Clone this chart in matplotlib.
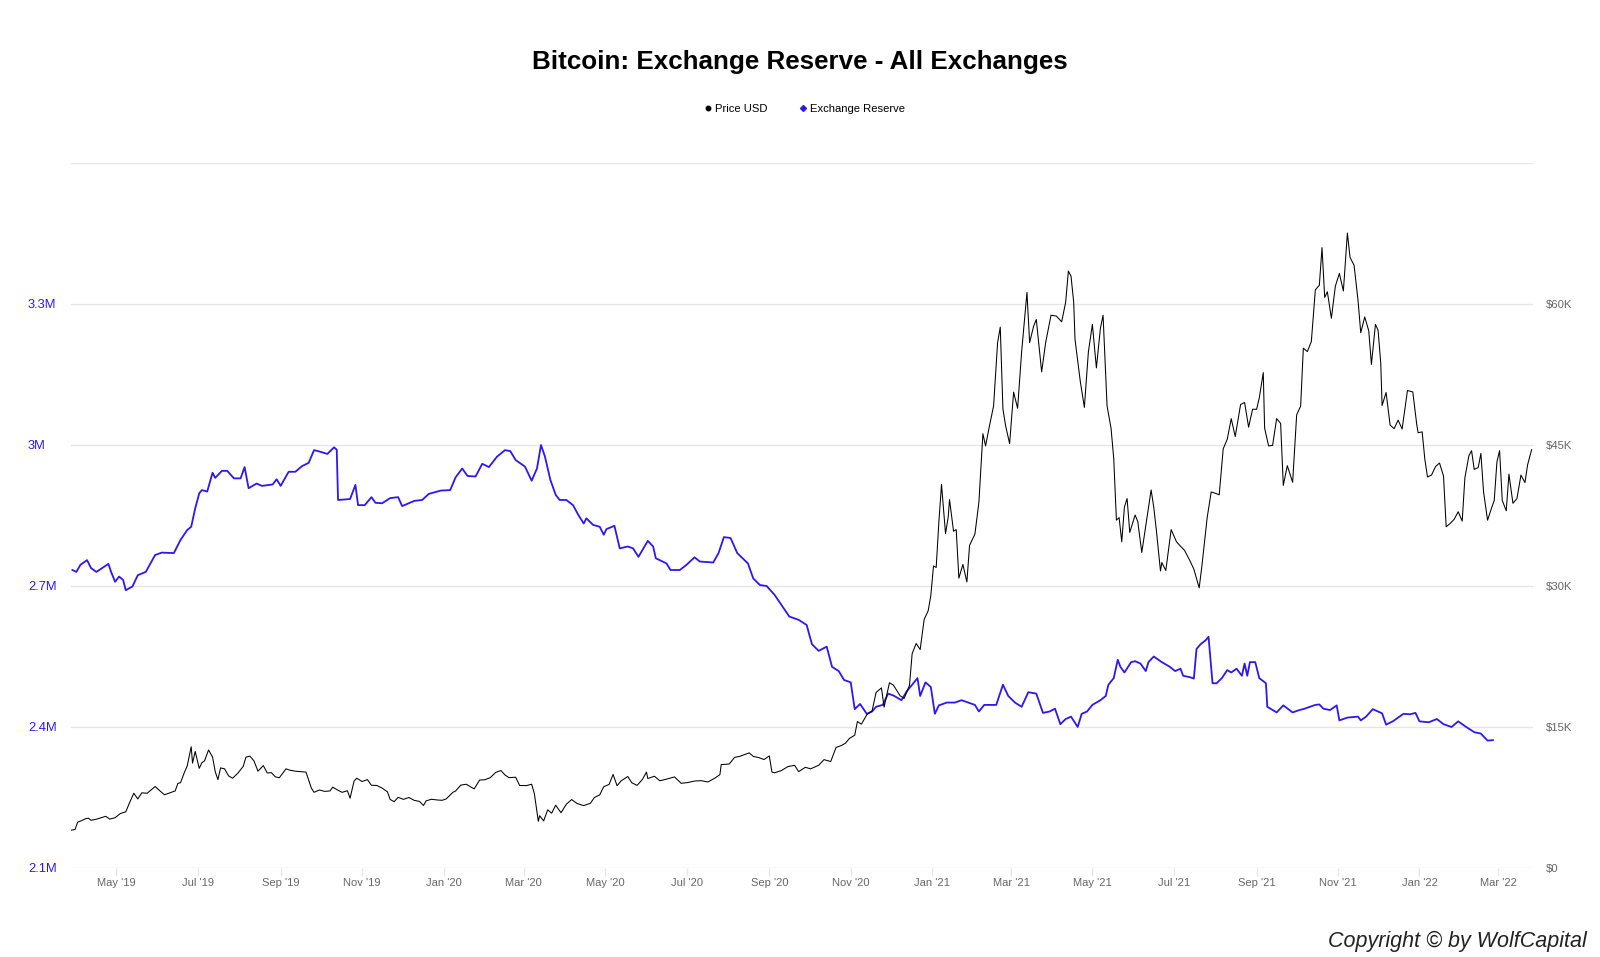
import matplotlib.pyplot as plt
import matplotlib.dates as mdates
from matplotlib.lines import Line2D
import pandas as pd

plt.rcParams['font.family'] = ['Liberation Sans', 'DejaVu Sans']

# bitcoin price (USD)
price_dates = [
    '2019-03-28', '2019-03-31', '2019-04-02', '2019-04-05', '2019-04-08', '2019-04-10', '2019-04-12', '2019-04-17',
    '2019-04-23', '2019-04-26', '2019-04-30', '2019-05-04', '2019-05-08', '2019-05-11', '2019-05-14', '2019-05-17',
    '2019-05-20', '2019-05-24', '2019-05-30', '2019-06-03', '2019-06-06', '2019-06-10', '2019-06-14', '2019-06-16',
    '2019-06-18', '2019-06-21', '2019-06-23', '2019-06-26', '2019-06-27', '2019-06-29', '2019-07-02', '2019-07-04',
    '2019-07-06', '2019-07-09', '2019-07-12', '2019-07-14', '2019-07-16', '2019-07-18', '2019-07-21', '2019-07-24',
    '2019-07-27', '2019-07-31', '2019-08-04', '2019-08-06', '2019-08-09', '2019-08-12', '2019-08-15', '2019-08-19',
    '2019-08-22', '2019-08-25', '2019-08-28', '2019-08-31', '2019-09-05', '2019-09-08', '2019-09-12', '2019-09-16',
    '2019-09-20', '2019-09-24', '2019-09-26', '2019-09-30', '2019-10-04', '2019-10-08', '2019-10-10', '2019-10-13',
    '2019-10-17', '2019-10-21', '2019-10-23', '2019-10-25', '2019-10-26', '2019-10-28', '2019-11-01', '2019-11-05',
    '2019-11-08', '2019-11-12', '2019-11-16', '2019-11-20', '2019-11-22', '2019-11-25', '2019-11-28', '2019-12-02',
    '2019-12-06', '2019-12-10', '2019-12-14', '2019-12-17', '2019-12-19', '2019-12-23', '2019-12-27', '2019-12-31',
    '2020-01-03', '2020-01-06', '2020-01-08', '2020-01-10', '2020-01-14', '2020-01-18', '2020-01-21', '2020-01-24',
    '2020-01-28', '2020-02-01', '2020-02-05', '2020-02-09', '2020-02-13', '2020-02-16', '2020-02-19', '2020-02-24',
    '2020-02-27', '2020-03-03', '2020-03-07', '2020-03-09', '2020-03-12', '2020-03-13', '2020-03-16', '2020-03-19',
    '2020-03-22', '2020-03-25', '2020-03-29', '2020-04-02', '2020-04-06', '2020-04-10', '2020-04-15', '2020-04-20',
    '2020-04-23', '2020-04-27', '2020-04-30', '2020-05-04', '2020-05-07', '2020-05-10', '2020-05-13', '2020-05-18',
    '2020-05-21', '2020-05-25', '2020-05-29', '2020-06-01', '2020-06-02', '2020-06-07', '2020-06-11', '2020-06-16',
    '2020-06-22', '2020-06-27', '2020-07-02', '2020-07-07', '2020-07-12', '2020-07-17', '2020-07-22', '2020-07-26',
    '2020-07-27', '2020-08-02', '2020-08-06', '2020-08-10', '2020-08-17', '2020-08-20', '2020-08-24', '2020-08-28',
    '2020-09-01', '2020-09-03', '2020-09-05', '2020-09-10', '2020-09-15', '2020-09-20', '2020-09-23', '2020-09-28',
    '2020-10-02', '2020-10-08', '2020-10-12', '2020-10-17', '2020-10-21', '2020-10-25', '2020-10-28', '2020-10-31',
    '2020-11-04', '2020-11-06', '2020-11-09', '2020-11-13', '2020-11-17', '2020-11-20', '2020-11-24', '2020-11-26',
    '2020-11-30', '2020-12-03', '2020-12-08', '2020-12-11', '2020-12-15', '2020-12-17', '2020-12-20', '2020-12-23',
    '2020-12-26', '2020-12-29', '2020-12-31', '2021-01-02', '2021-01-04', '2021-01-06', '2021-01-08', '2021-01-11',
    '2021-01-13', '2021-01-14', '2021-01-17', '2021-01-19', '2021-01-21', '2021-01-24', '2021-01-27', '2021-01-29',
    '2021-02-02', '2021-02-05', '2021-02-08', '2021-02-10', '2021-02-13', '2021-02-16', '2021-02-19', '2021-02-21',
    '2021-02-23', '2021-02-25', '2021-02-28', '2021-03-03', '2021-03-06', '2021-03-09', '2021-03-13', '2021-03-15',
    '2021-03-18', '2021-03-20', '2021-03-24', '2021-03-27', '2021-03-31', '2021-04-04', '2021-04-08', '2021-04-11',
    '2021-04-13', '2021-04-15', '2021-04-17', '2021-04-18', '2021-04-22', '2021-04-25', '2021-04-28', '2021-05-01',
    '2021-05-04', '2021-05-07', '2021-05-09', '2021-05-12', '2021-05-15', '2021-05-17', '2021-05-19', '2021-05-21',
    '2021-05-23', '2021-05-25', '2021-05-27', '2021-05-29', '2021-06-02', '2021-06-04', '2021-06-07', '2021-06-11',
    '2021-06-14', '2021-06-16', '2021-06-18', '2021-06-21', '2021-06-22', '2021-06-25', '2021-06-29', '2021-07-03',
    '2021-07-06', '2021-07-09', '2021-07-13', '2021-07-16', '2021-07-20', '2021-07-22', '2021-07-26', '2021-07-29',
    '2021-08-01', '2021-08-04', '2021-08-07', '2021-08-10', '2021-08-13', '2021-08-16', '2021-08-20', '2021-08-23',
    '2021-08-26', '2021-08-29', '2021-09-01', '2021-09-03', '2021-09-06', '2021-09-07', '2021-09-10', '2021-09-13',
    '2021-09-16', '2021-09-19', '2021-09-21', '2021-09-24', '2021-09-28', '2021-10-01', '2021-10-04', '2021-10-06',
    '2021-10-09', '2021-10-12', '2021-10-15', '2021-10-18', '2021-10-20', '2021-10-22', '2021-10-24', '2021-10-27',
    '2021-10-30', '2021-11-02', '2021-11-05', '2021-11-08', '2021-11-10', '2021-11-13', '2021-11-16', '2021-11-18',
    '2021-11-21', '2021-11-24', '2021-11-26', '2021-11-29', '2021-12-01', '2021-12-03', '2021-12-04', '2021-12-07',
    '2021-12-10', '2021-12-13', '2021-12-16', '2021-12-19', '2021-12-23', '2021-12-27', '2021-12-30', '2021-12-31',
    '2022-01-03', '2022-01-05', '2022-01-07', '2022-01-10', '2022-01-13', '2022-01-16', '2022-01-19', '2022-01-21',
    '2022-01-24', '2022-01-27', '2022-01-30', '2022-02-02', '2022-02-04', '2022-02-07', '2022-02-09', '2022-02-11',
    '2022-02-14', '2022-02-16', '2022-02-18', '2022-02-21', '2022-02-24', '2022-02-26', '2022-02-28', '2022-03-02',
    '2022-03-04', '2022-03-07', '2022-03-09', '2022-03-12', '2022-03-15', '2022-03-18', '2022-03-21', '2022-03-23',
    '2022-03-26',
]
price_usd = [
    4020, 4100, 4880, 5040, 5250, 5300, 5070, 5230,
    5500, 5200, 5350, 5800, 5980, 7000, 7950, 7350,
    8000, 7950, 8670, 8150, 7790, 8000, 8200, 8990,
    9080, 10200, 10850, 12900, 11160, 12400, 10600, 11200,
    11400, 12560, 11800, 10250, 9400, 10650, 10550, 9800,
    9550, 10090, 10820, 11790, 11900, 11400, 10300, 10900,
    10100, 10150, 9700, 9600, 10550, 10400, 10300, 10250,
    10200, 8500, 8050, 8300, 8150, 8200, 8600, 8350,
    8050, 8220, 7430, 8660, 9250, 9550, 9200, 9400,
    8800, 8780, 8500, 8100, 7300, 7050, 7520, 7300,
    7500, 7200, 7080, 6650, 7150, 7310, 7240, 7200,
    7350, 7770, 8050, 8190, 8820, 8910, 8650, 8420,
    9350, 9390, 9610, 10160, 10370, 9900, 9610, 9660,
    8780, 8760, 8910, 7940, 4970, 5560, 5010, 6190,
    5830, 6680, 5880, 6790, 7280, 6860, 6640, 6880,
    7500, 7780, 8650, 8890, 9950, 8750, 9270, 9730,
    9070, 8790, 9430, 10200, 9520, 9760, 9280, 9450,
    9690, 9010, 9090, 9250, 9290, 9150, 9540, 9930,
    11000, 11060, 11770, 11880, 12250, 11870, 11750, 11540,
    11920, 10200, 10130, 10360, 10790, 10920, 10250, 10710,
    10550, 10930, 11530, 11320, 12820, 13030, 13270, 13780,
    14130, 15580, 15300, 16300, 16720, 18680, 19160, 17110,
    19710, 19450, 18320, 18040, 19430, 22800, 23880, 23240,
    26440, 27360, 29000, 32130, 31970, 36770, 40800, 35570,
    37330, 39190, 35830, 36000, 30830, 32290, 30430, 34320,
    35510, 38900, 46200, 44900, 47100, 49150, 55890, 57540,
    48820, 47050, 45140, 50620, 48900, 54900, 61240, 55890,
    57650, 58350, 52780, 55890, 58800, 58720, 58100, 60200,
    63500, 62970, 60180, 56220, 51700, 49000, 54900, 57830,
    53200, 57400, 58800, 49150, 46760, 43540, 37000, 37280,
    34700, 38400, 39300, 35700, 37550, 36850, 33560, 37340,
    40220, 38350, 35820, 31600, 32500, 31640, 36000, 34700,
    34230, 33800, 32700, 31800, 29800, 32100, 37300, 40000,
    39870, 39700, 44600, 45600, 47800, 45900, 49300, 49530,
    46900, 48800, 48800, 50000, 52700, 46800, 44900, 44960,
    47800, 47300, 40700, 42800, 41030, 48200, 49150, 55300,
    54940, 56000, 61500, 62000, 66000, 60700, 61300, 58480,
    61900, 63250, 61380, 67550, 64950, 64130, 60340, 56940,
    58620, 57150, 53570, 57830, 57200, 53700, 49200, 50580,
    47120, 46740, 47640, 46700, 50800, 50640, 47120, 46300,
    46400, 43500, 41600, 41800, 42700, 43080, 41700, 36300,
    36650, 37100, 37900, 36900, 41500, 43850, 44400, 42400,
    42600, 44100, 40000, 37000, 38300, 39100, 43200, 44400,
    39100, 38000, 41900, 38800, 39300, 41800, 41000, 42900,
    44500,
]

# exchange reserve (million BTC)
reserve_dates = [
    '2019-03-29', '2019-04-01', '2019-04-04', '2019-04-09', '2019-04-12', '2019-04-16', '2019-04-25', '2019-04-27',
    '2019-04-30', '2019-05-03', '2019-05-06', '2019-05-08', '2019-05-13', '2019-05-17', '2019-05-23', '2019-05-30',
    '2019-06-04', '2019-06-13', '2019-06-18', '2019-06-23', '2019-06-26', '2019-06-29', '2019-07-02', '2019-07-04',
    '2019-07-08', '2019-07-12', '2019-07-14', '2019-07-19', '2019-07-23', '2019-07-28', '2019-08-02', '2019-08-05',
    '2019-08-08', '2019-08-14', '2019-08-18', '2019-08-26', '2019-08-29', '2019-09-01', '2019-09-07', '2019-09-12',
    '2019-09-17', '2019-09-22', '2019-09-26', '2019-09-29', '2019-10-06', '2019-10-11', '2019-10-13', '2019-10-14',
    '2019-10-23', '2019-10-27', '2019-10-29', '2019-11-03', '2019-11-08', '2019-11-11', '2019-11-16', '2019-11-22',
    '2019-11-28', '2019-12-01', '2019-12-10', '2019-12-16', '2019-12-21', '2019-12-30', '2020-01-06', '2020-01-10',
    '2020-01-15', '2020-01-19', '2020-01-25', '2020-01-30', '2020-02-04', '2020-02-10', '2020-02-16', '2020-02-20',
    '2020-02-24', '2020-03-02', '2020-03-07', '2020-03-11', '2020-03-14', '2020-03-17', '2020-03-21', '2020-03-25',
    '2020-03-28', '2020-04-02', '2020-04-07', '2020-04-11', '2020-04-15', '2020-04-17', '2020-04-22', '2020-04-27',
    '2020-04-30', '2020-05-02', '2020-05-08', '2020-05-12', '2020-05-18', '2020-05-22', '2020-05-26', '2020-06-02',
    '2020-06-06', '2020-06-08', '2020-06-16', '2020-06-19', '2020-06-26', '2020-07-01', '2020-07-07', '2020-07-11',
    '2020-07-21', '2020-07-25', '2020-07-29', '2020-08-03', '2020-08-08', '2020-08-16', '2020-08-20', '2020-08-25',
    '2020-08-30', '2020-09-05', '2020-09-11', '2020-09-16', '2020-09-23', '2020-09-29', '2020-10-01', '2020-10-03',
    '2020-10-08', '2020-10-14', '2020-10-18', '2020-10-23', '2020-10-27', '2020-11-01', '2020-11-04', '2020-11-08',
    '2020-11-13', '2020-11-17', '2020-11-20', '2020-11-25', '2020-11-29', '2020-12-03', '2020-12-09', '2020-12-13',
    '2020-12-17', '2020-12-21', '2020-12-23', '2020-12-27', '2020-12-31', '2021-01-03', '2021-01-06', '2021-01-12',
    '2021-01-18', '2021-01-23', '2021-01-28', '2021-02-02', '2021-02-05', '2021-02-09', '2021-02-18', '2021-02-23',
    '2021-02-27', '2021-03-04', '2021-03-09', '2021-03-14', '2021-03-20', '2021-03-25', '2021-03-30', '2021-04-03',
    '2021-04-07', '2021-04-11', '2021-04-15', '2021-04-20', '2021-04-23', '2021-04-27', '2021-05-01', '2021-05-07',
    '2021-05-11', '2021-05-13', '2021-05-17', '2021-05-20', '2021-05-22', '2021-05-25', '2021-05-30', '2021-06-02',
    '2021-06-06', '2021-06-10', '2021-06-12', '2021-06-16', '2021-06-22', '2021-06-28', '2021-07-02', '2021-07-06',
    '2021-07-08', '2021-07-13', '2021-07-16', '2021-07-18', '2021-07-21', '2021-07-25', '2021-07-27', '2021-07-30',
    '2021-08-02', '2021-08-06', '2021-08-10', '2021-08-13', '2021-08-17', '2021-08-21', '2021-08-23', '2021-08-25',
    '2021-08-27', '2021-08-31', '2021-09-03', '2021-09-08', '2021-09-09', '2021-09-16', '2021-09-21', '2021-09-28',
    '2021-10-03', '2021-10-07', '2021-10-15', '2021-10-18', '2021-10-21', '2021-10-26', '2021-10-31', '2021-11-02',
    '2021-11-08', '2021-11-16', '2021-11-18', '2021-11-22', '2021-11-27', '2021-12-04', '2021-12-07', '2021-12-12',
    '2021-12-20', '2021-12-25', '2021-12-29', '2022-01-01', '2022-01-08', '2022-01-14', '2022-01-19', '2022-01-25',
    '2022-01-30', '2022-02-05', '2022-02-11', '2022-02-16', '2022-02-21', '2022-02-25',
]
reserve_m = [
    2.734, 2.730, 2.745, 2.755, 2.738, 2.730, 2.747, 2.730,
    2.709, 2.720, 2.713, 2.691, 2.699, 2.723, 2.730, 2.766,
    2.771, 2.770, 2.798, 2.819, 2.826, 2.865, 2.897, 2.904,
    2.901, 2.941, 2.930, 2.945, 2.945, 2.929, 2.929, 2.953,
    2.908, 2.918, 2.913, 2.916, 2.927, 2.913, 2.943, 2.943,
    2.955, 2.962, 2.989, 2.987, 2.981, 2.995, 2.990, 2.883,
    2.885, 2.915, 2.872, 2.872, 2.889, 2.877, 2.876, 2.887,
    2.889, 2.870, 2.881, 2.883, 2.896, 2.903, 2.904, 2.931,
    2.950, 2.934, 2.933, 2.960, 2.953, 2.975, 2.989, 2.987,
    2.968, 2.954, 2.924, 2.950, 3.000, 2.975, 2.926, 2.894,
    2.883, 2.883, 2.872, 2.851, 2.833, 2.844, 2.830, 2.826,
    2.809, 2.821, 2.828, 2.780, 2.784, 2.780, 2.762, 2.796,
    2.784, 2.759, 2.748, 2.734, 2.734, 2.745, 2.761, 2.752,
    2.750, 2.770, 2.804, 2.802, 2.770, 2.748, 2.716, 2.702,
    2.700, 2.681, 2.656, 2.635, 2.628, 2.617, 2.596, 2.576,
    2.562, 2.571, 2.528, 2.519, 2.500, 2.495, 2.438, 2.449,
    2.428, 2.433, 2.443, 2.447, 2.471, 2.467, 2.457, 2.476,
    2.490, 2.504, 2.466, 2.495, 2.485, 2.428, 2.446, 2.452,
    2.452, 2.457, 2.452, 2.447, 2.433, 2.447, 2.447, 2.490,
    2.466, 2.452, 2.443, 2.474, 2.471, 2.430, 2.433, 2.439,
    2.406, 2.417, 2.422, 2.400, 2.428, 2.433, 2.447, 2.457,
    2.466, 2.490, 2.504, 2.543, 2.528, 2.516, 2.538, 2.540,
    2.535, 2.519, 2.538, 2.550, 2.538, 2.528, 2.519, 2.524,
    2.509, 2.506, 2.503, 2.566, 2.576, 2.585, 2.592, 2.493,
    2.493, 2.504, 2.521, 2.516, 2.524, 2.509, 2.535, 2.509,
    2.538, 2.538, 2.504, 2.493, 2.443, 2.431, 2.446, 2.431,
    2.436, 2.439, 2.447, 2.448, 2.439, 2.436, 2.446, 2.414,
    2.420, 2.422, 2.414, 2.422, 2.438, 2.429, 2.405, 2.412,
    2.428, 2.427, 2.430, 2.412, 2.410, 2.417, 2.406, 2.400,
    2.412, 2.400, 2.389, 2.386, 2.371, 2.372,
]

reserve_ticks = [2.1, 2.4, 2.7, 3.0, 3.3, 3.6]
reserve_labels = ['2.1M', '2.4M', '2.7M', '3M', '3.3M', '']
price_ticks = [0, 15000, 30000, 45000, 60000, 75000]
price_labels = ['$0', '$15K', '$30K', '$45K', '$60K', '']

blue = '#2d17f5'
grid = '#e6e6e6'
label_gray = '#666666'

fig = plt.figure(figsize=(16, 9.57), dpi=100)
ax = fig.add_axes([0.0444, 0.0930, 0.9137, 0.7367])
ax2 = ax.twinx()

ax.plot(pd.to_datetime(reserve_dates), reserve_m, color=blue, lw=1.3, zorder=3)
ax2.plot(pd.to_datetime(price_dates), price_usd, color='black', lw=0.75, zorder=3)

ax.set_xlim(pd.Timestamp('2019-03-28'), pd.Timestamp('2022-03-27'))
ax.set_ylim(2.1, 3.6)
ax2.set_ylim(0, 75000)

ax.set_yticks(reserve_ticks)
ax.set_yticklabels(reserve_labels, ha='left')
ax.tick_params(axis='y', length=0, pad=31, labelsize=9.3, labelcolor=blue)
ax.grid(axis='y', color=grid, lw=1)
ax.set_axisbelow(True)

ax2.set_yticks(price_ticks)
ax2.set_yticklabels(price_labels)
ax2.tick_params(axis='y', length=0, pad=9, labelsize=8.2, labelcolor=label_gray)

ax.xaxis.set_major_locator(mdates.MonthLocator(bymonth=[1, 3, 5, 7, 9, 11]))
ax.xaxis.set_major_formatter(mdates.DateFormatter("%b '%y"))
ax.tick_params(axis='x', length=6, width=1, color=grid, pad=1, labelsize=8, labelcolor=label_gray)

for a in (ax, ax2):
    for s in ('top', 'left', 'right', 'bottom'):
        a.spines[s].set_visible(False)

fig.text(0.5, 0.935, 'Bitcoin: Exchange Reserve - All Exchanges', ha='center', va='center',
         fontsize=18.7, fontweight='bold', color='black')

handles = [
    Line2D([], [], ls='none', marker='o', ms=3.2, color='black'),
    Line2D([], [], ls='none', marker='D', ms=3, color=blue),
]
fig.legend(handles, ['Price USD', 'Exchange Reserve'], loc='center', bbox_to_anchor=(0.503, 0.886),
           ncol=2, frameon=False, fontsize=8.1, handlelength=0.6, handletextpad=0.3, columnspacing=2.9)

fig.text(0.992, 0.016, 'Copyright \u00a9 by WolfCapital', ha='right', va='center',
         fontsize=15.5, style='italic', color='#222222')

fig.savefig('out.png', dpi=100)
